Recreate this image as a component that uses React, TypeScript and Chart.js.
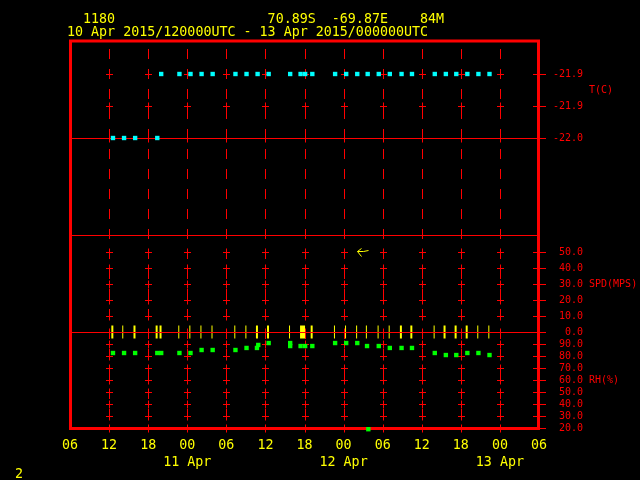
import React, { useEffect, useRef } from "react";
import { Chart, registerables } from "chart.js";
Chart.register(...registerables);

// ---- header / meta text ----
const headerLine1 = "  1180                   70.89S  -69.87E    84M";
const headerLine2 = "10 Apr 2015/120000UTC - 13 Apr 2015/000000UTC";
const footerText = "2";

// ---- time axis (hours since 10 Apr 2015 06 UTC) ----
const startDay = 10;
const startHour = 6;
const monthName = "Apr";
const xMin = 0;
const xMax = 72;
const xStep = 6;

// ---- temperature (C) ----
const tempTicks = [-22.0, -21.94, -21.88];
const tempMin = -22.181875;
const tempMax = -21.81625;
const tempHours = [6.6, 8.3, 10.0, 13.4, 14.0, 16.8, 18.5, 20.2, 21.9, 25.4, 27.1, 28.8, 30.5, 33.8, 35.4, 36.1, 37.2, 40.7, 42.4, 44.1, 45.7, 47.4, 49.1, 50.9, 52.5, 56.0, 57.7, 59.3, 61.0, 62.7, 64.4];
const tempValues = [-22.0, -22.0, -22.0, -22.0, -21.88, -21.88, -21.88, -21.88, -21.88, -21.88, -21.88, -21.88, -21.88, -21.88, -21.88, -21.88, -21.88, -21.88, -21.88, -21.88, -21.88, -21.88, -21.88, -21.88, -21.88, -21.88, -21.88, -21.88, -21.88, -21.88, -21.88];

// ---- wind speed (m/s) ----
const spdTicks = [0, 10, 20, 30, 40, 50];
const spdMin = 0;
const spdMax = 60.625;
const windHours = [6.5, 8.1, 9.9, 13.3, 13.9, 16.7, 18.4, 20.1, 21.8, 25.3, 27.0, 28.7, 30.4, 33.7, 35.7, 37.1, 40.6, 42.3, 44.0, 45.5, 47.3, 49.0, 50.8, 52.4, 55.9, 57.5, 59.2, 60.9, 62.6, 64.3];
const windSpeed = [0, 0, 0, 0, 0, 0, 0, 0, 0, 0, 0, 0, 0, 0, 0, 0, 0, 0, 0, 0, 0, 0, 0, 0, 0, 0, 0, 0, 0, 0];
const windMarkWidths = [2, 1, 2, 2, 2, 1, 1, 1, 1, 1, 1, 2, 2, 1, 5, 2, 1, 1, 1, 1, 1, 1, 2, 2, 1, 2, 2, 2, 1, 1];
const windKeyArrow = { hour: 44.0, speed: 50.6 };

// ---- relative humidity (%) ----
const rhTicks = [20, 30, 40, 50, 60, 70, 80, 90];
const rhMin = 20;
const rhMax = 100;
const rhHours = [6.6, 8.3, 10.0, 13.4, 14.0, 16.8, 18.5, 20.2, 21.9, 25.4, 27.1, 28.7, 28.9, 30.5, 33.8, 33.8, 35.4, 36.1, 37.2, 40.7, 42.4, 44.1, 45.6, 45.8, 47.4, 49.1, 50.9, 52.5, 56.0, 57.7, 59.3, 61.0, 62.7, 64.4];
const rhValues = [82.5, 82.5, 82.5, 82.5, 82.5, 82.5, 82.5, 85, 85, 85, 86.7, 86.7, 89.2, 90.8, 90.8, 88.3, 88.3, 88.3, 88.3, 90.8, 90.8, 90.8, 88.3, 19, 88.3, 86.7, 86.7, 86.7, 82.5, 80.8, 80.8, 82.5, 82.5, 80.8];

const axisTitles = [
  { id: "t", text: "T(C)", value: -21.91 },
  { id: "spd", text: "SPD(MPS)", value: 30 },
  { id: "rh", text: "RH(%)", value: 60 },
];

const RED = "#ff0000";
const YELLOW = "#ffff00";
const CYAN = "#00ffff";
const GREEN = "#00ff00";
const MONO = '"DejaVu Sans Mono", "Liberation Mono", monospace';

const hLine = (ctx: any, a: any, py: number, ext: number) => {
  const y = Math.round(py) + 0.5;
  ctx.beginPath();
  ctx.moveTo(a.left, y);
  ctx.lineTo(a.right + ext, y);
  ctx.stroke();
};

const metPlugin = {
  id: "metPlot",
  beforeDraw(chart: any) {
    const { ctx, width, height } = chart;
    ctx.save();
    ctx.fillStyle = "#000";
    ctx.fillRect(0, 0, width, height);
    ctx.restore();
  },
  beforeDatasetsDraw(chart: any) {
    const { ctx, chartArea: a, scales } = chart;
    const xs = scales.x;
    const xPx = xs.ticks
      .filter((t: any) => t.value > xs.min && t.value < xs.max)
      .map((t: any) => Math.round(xs.getPixelForValue(t.value)) + 0.5);
    ctx.save();
    ctx.strokeStyle = RED;
    ctx.lineWidth = 1;
    ctx.setLineDash([10, 10]);
    ctx.lineDashOffset = 11;
    ctx.beginPath();
    xPx.forEach((px: number) => {
      ctx.moveTo(px, a.top);
      ctx.lineTo(px, a.bottom);
    });
    ctx.stroke();
    ctx.setLineDash([]);
    ctx.beginPath();
    ["t", "spd", "rh"].forEach((id) => {
      const s = scales[id];
      s.ticks.forEach((tk: any) => {
        const py = Math.round(s.getPixelForValue(tk.value)) + 0.5;
        xPx.forEach((px: number) => {
          ctx.moveTo(px - 3.5, py);
          ctx.lineTo(px + 3.5, py);
          ctx.moveTo(px, py - 4);
          ctx.lineTo(px, py + 4);
        });
        ctx.moveTo(a.right - 6, py);
        ctx.lineTo(a.right + 7, py);
      });
    });
    ctx.stroke();
    hLine(ctx, a, scales.t.getPixelForValue(tempTicks[0]), 0);
    hLine(ctx, a, scales.spd.top, 0);
    // frame
    ctx.lineWidth = 3;
    ctx.strokeRect(a.left + 0.5, a.top + 1, a.right - a.left - 1, a.bottom - a.top - 0.5);
    ctx.restore();
  },
  afterDatasetsDraw(chart: any) {
    const { ctx, chartArea: a, scales } = chart;
    ctx.save();
    ctx.strokeStyle = RED;
    ctx.lineWidth = 1;
    hLine(ctx, a, scales.spd.getPixelForValue(spdTicks[0]), 7);
    // wind key arrow
    const ax = Math.round(scales.x.getPixelForValue(windKeyArrow.hour)) + 0.5;
    const ay = Math.round(scales.spd.getPixelForValue(windKeyArrow.speed)) + 0.5;
    ctx.strokeStyle = YELLOW;
    ctx.beginPath();
    ctx.moveTo(ax, ay);
    ctx.lineTo(ax + 6, ay);
    ctx.lineTo(ax + 11, ay - 1);
    ctx.moveTo(ax, ay);
    ctx.lineTo(ax + 4, ay - 3);
    ctx.moveTo(ax, ay);
    ctx.lineTo(ax + 4, ay + 5);
    ctx.stroke();
    ctx.restore();
  },
  afterDraw(chart: any) {
    const { ctx, chartArea: a, scales } = chart;
    ctx.save();
    ctx.textBaseline = "middle";
    ctx.textAlign = "left";
    ctx.fillStyle = YELLOW;
    ctx.font = `13.33px ${MONO}`;
    ctx.fillText(headerLine1, 67, 20);
    ctx.fillText(headerLine2, 67, 33);
    ctx.fillText(footerText, 15, 475);
    ctx.fillStyle = RED;
    ctx.font = `10px ${MONO}`;
    axisTitles.forEach((t) => {
      ctx.fillText(t.text, a.right + 50, scales[t.id].getPixelForValue(t.value));
    });
    ctx.restore();
  },
};

const fixedTicks = (vals: number[]) => (s: any) => {
  s.ticks = vals.map((v) => ({ value: v }));
};

const yAxis = (weight: number, min: number, max: number, ticks: number[]) => ({
  type: "linear",
  position: "right",
  stack: "panels",
  stackWeight: weight,
  min,
  max,
  afterBuildTicks: fixedTicks(ticks),
  afterFit: (s: any) => {
    s.width = 44;
  },
  grid: { display: false, drawTicks: false },
  border: { display: false },
  ticks: {
    color: RED,
    font: { family: MONO, size: 10 },
    padding: 0,
    crossAlign: "far",
    autoSkip: false,
    callback: (v: any) => Number(v).toFixed(1),
  },
});

export default function App() {
  const ref = useRef<HTMLCanvasElement | null>(null);
  useEffect(() => {
    if (!ref.current) return;
    const chart = new Chart(ref.current, {
      type: "scatter",
      data: {
        datasets: [
          {
            label: "T",
            yAxisID: "t",
            data: tempHours.map((h, i) => ({ x: h, y: tempValues[i] })),
            pointStyle: "rect",
            pointRadius: 3.1,
            pointBackgroundColor: CYAN,
            pointBorderWidth: 0,
          },
          {
            label: "SPD",
            yAxisID: "spd",
            data: windHours.map((h, i) => ({ x: h, y: windSpeed[i] })),
            pointStyle: "line",
            pointRotation: 90,
            pointRadius: 6.5,
            pointBorderColor: YELLOW,
            pointBorderWidth: windMarkWidths,
            clip: false,
          },
          {
            label: "RH",
            yAxisID: "rh",
            data: rhHours.map((h, i) => ({ x: h, y: rhValues[i] })),
            pointStyle: "rect",
            pointRadius: 3.1,
            pointBackgroundColor: GREEN,
            pointBorderWidth: 0,
            clip: false,
          },
        ],
      } as any,
      options: {
        responsive: false,
        animation: false,
        devicePixelRatio: 1,
        events: [],
        layout: { padding: { left: 70, top: 40, right: 57, bottom: 0 } },
        plugins: { legend: { display: false }, tooltip: { enabled: false }, title: { display: false } },
        scales: {
          x: {
            type: "linear",
            position: "bottom",
            min: xMin,
            max: xMax,
            afterFit: (s: any) => {
              s.height = 52;
            },
            grid: { display: false, drawTicks: false },
            border: { display: false },
            ticks: {
              stepSize: xStep,
              autoSkip: false,
              maxRotation: 0,
              color: YELLOW,
              padding: 9.5,
              font: { family: MONO, size: 13.33, lineHeight: "17px" },
              callback: (v: any) => {
                const abs = startHour + Number(v);
                const hh = abs % 24;
                const lab = String(hh).padStart(2, "0");
                if (hh === 0) return [lab, `${startDay + abs / 24} ${monthName}`];
                return lab;
              },
            },
          },
          t: yAxis(195, tempMin, tempMax, tempTicks),
          spd: yAxis(97, spdMin, spdMax, spdTicks),
          rh: yAxis(96, rhMin, rhMax, rhTicks),
        } as any,
      },
      plugins: [metPlugin],
    } as any);
    return () => chart.destroy();
  }, []);
  return (
    <div style={{ position: "fixed", left: 0, top: 0, width: 640, height: 480, background: "#000" }}>
      <canvas ref={ref} width={640} height={480} style={{ display: "block" }} />
    </div>
  );
}
